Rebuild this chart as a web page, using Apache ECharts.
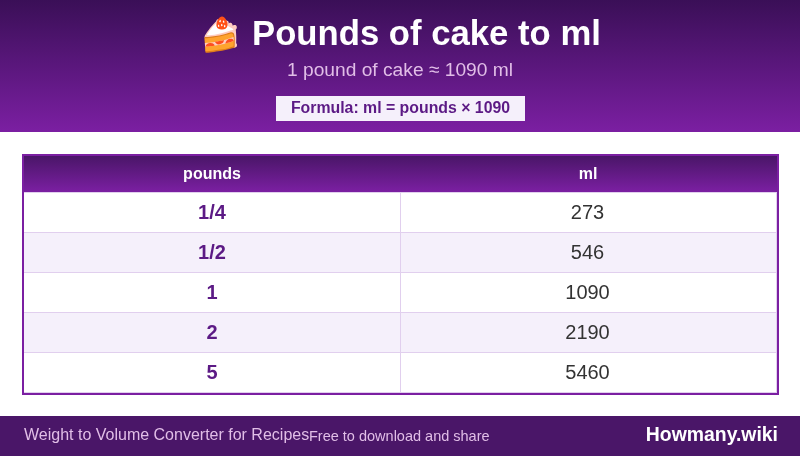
<!DOCTYPE html>
<html><head><meta charset="utf-8">
<style>html,body{margin:0;padding:0;background:#fff}#c{width:800px;height:456px}</style>
<script src="https://cdn.jsdelivr.net/npm/echarts@6/dist/echarts.min.js"></script>
</head><body><div id="c"></div>
<script>
const titleEmoji = '🍰';
const titleText = 'Pounds of cake to ml';
const subtitleText = '1 pound of cake ≈ 1090 ml';
const formulaText = 'Formula: ml = pounds × 1090';
const columnNames = ['pounds', 'ml'];
const pounds = ['1/4', '1/2', '1', '2', '5'];
const ml = [273, 546, 1090, 2190, 5460];
const footerLeft = 'Weight to Volume Converter for Recipes';
const footerMiddle = 'Free to download and share';
const footerRight = 'Howmany.wiki';

const font = '"Liberation Sans", Arial, sans-serif';
const dark = '#4a1668', mid = '#7b1fa2', line = '#e1cfee', alt = '#f5f0fb', accent = '#5c1a85';
const grad = (a, b) => new echarts.graphic.LinearGradient(0, 0, 0, 1, [{offset: 0, color: a}, {offset: 1, color: b}]);
const T = {x: 22, y: 154, w: 757, h: 241, b: 2, head: 37, row: 40, split: 400};

const chart = echarts.init(document.getElementById('c'), null, {renderer: 'canvas'});
function txt(x, y, text, size, weight, fill, align) {
  return {type: 'text', x, y, z: 10, style: {text, font: `${weight} ${size}px ${font}`, fill, align: align || 'center', verticalAlign: 'middle'}, silent: true};
}
function renderRow(params, api) {
  const i = params.dataIndex;
  const y = T.y + T.b + T.head + i * T.row;
  const left = T.x + T.b, right = T.x + T.w - T.b, w = right - left;
  return {type: 'group', children: [
    {type: 'rect', shape: {x: left, y, width: w, height: T.row}, style: {fill: i % 2 ? alt : '#fff'}},
    {type: 'rect', shape: {x: left, y: y + T.row - 1, width: w, height: 1}, style: {fill: line}},
    {type: 'rect', shape: {x: T.split, y, width: 1, height: T.row - 1}, style: {fill: line}},
    {type: 'rect', shape: {x: right - 1, y, width: 1, height: T.row}, style: {fill: line}},
    txt(212, y + T.row / 2, pounds[i], 20, 'bold', accent),
    txt(587.5, y + T.row / 2, String(ml[i]), 20, 'normal', '#333333')
  ]};
}
chart.setOption({
  animation: false,
  backgroundColor: '#ffffff',
  series: [{
    type: 'custom', coordinateSystem: 'none', silent: true, z: 5,
    data: pounds.map((p, i) => [p, ml[i]]),
    renderItem: renderRow
  }],
  graphic: {elements: [
    {type: 'rect', shape: {x: 0, y: 0, width: 800, height: 132}, style: {fill: grad('#3a0f57', mid)}, z: 1},
    txt(220, 37, titleEmoji, 33, 'normal', '#fff'),
    txt(252, 35, titleText, 34.7, 'bold', '#ffffff', 'left'),
    txt(400, 71, subtitleText, 19.2, 'normal', '#e1bee7'),
    {type: 'rect', shape: {x: 276, y: 96, width: 249, height: 25}, style: {fill: alt}, z: 2},
    txt(400.5, 108.5, formulaText, 15.85, 'bold', accent),
    {type: 'rect', shape: {x: T.x, y: T.y, width: T.w, height: T.h}, style: {fill: mid}, z: 1},
    {type: 'rect', shape: {x: T.x + T.b, y: T.y + T.b, width: T.w - 2 * T.b, height: T.head - 1}, style: {fill: grad(dark, mid)}, z: 2},
    {type: 'rect', shape: {x: T.x + T.b, y: T.y + T.b + T.head - 1, width: T.w - 2 * T.b, height: 1}, style: {fill: line}, z: 2},
    txt(212, 175, columnNames[0], 16, 'bold', '#ffffff'),
    txt(588, 175, columnNames[1], 16, 'bold', '#ffffff'),
    {type: 'rect', shape: {x: 0, y: 416, width: 800, height: 40}, style: {fill: dark}, z: 1},
    txt(24, 436, footerLeft, 16, 'normal', '#e1bee7', 'left'),
    txt(309, 436.5, footerMiddle, 14.5, 'normal', '#e1bee7', 'left'),
    txt(778, 436, footerRight, 19.4, 'bold', '#ffffff', 'right')
  ]}
});
</script></body></html>
